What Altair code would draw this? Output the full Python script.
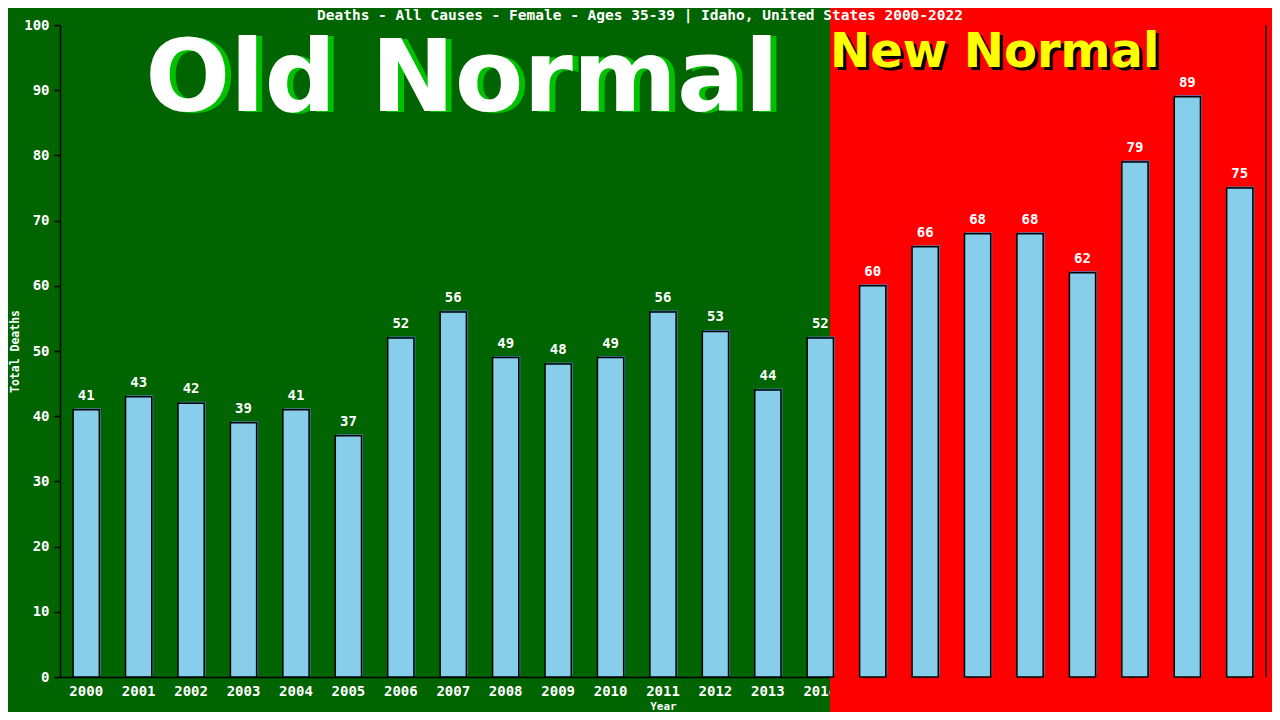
import altair as alt
import pandas as pd

years = [str(y) for y in range(2000, 2023)]
deaths = [41, 43, 42, 39, 41, 37, 52, 56, 49, 48, 49, 56, 53, 44, 52,
          60, 66, 68, 68, 62, 79, 89, 75]
title_text = "Deaths - All Causes - Female - Ages 35-39 | Idaho, United States 2000-2022"
y_ticks = list(range(0, 101, 10))

df = pd.DataFrame({"Year": years, "Deaths": deaths})
one = pd.DataFrame({"k": [0]})

W, H = 1206, 652
MONO = "DejaVu Sans Mono"

xs = alt.Scale(paddingInner=0.5, paddingOuter=0.25)
ys = alt.Scale(domain=[0, 100], nice=False)

x_enc = alt.X("Year:O", scale=xs, title="Year",
              axis=alt.Axis(labelAngle=0, ticks=False, labelColor="white",
                            labelFont=MONO, labelFontSize=14, labelFontWeight="bold",
                            labelPadding=7,
                            domainColor="black", domainWidth=1.5,
                            titleColor="white", titleFont=MONO, titleFontSize=11,
                            titleFontWeight="bold", titleY=29, titleBaseline="middle"))
y_enc = alt.Y("Deaths:Q", scale=ys, title="Total Deaths",
              axis=alt.Axis(values=y_ticks, grid=False, labelColor="white",
                            labelFont=MONO, labelFontSize=14, labelFontWeight="bold",
                            labelPadding=5,
                            tickColor="black", tickSize=6, tickWidth=1.5,
                            domainColor="black", domainWidth=1.5,
                            titleColor="white", titleFont=MONO, titleFontSize=11.5,
                            titleFontWeight="bold", titleX=-45, titleY=326,
                            titleAngle=-90, titleAlign="center",
                            titleBaseline="middle"))

red = alt.Chart(one).mark_rect(color="#FF0000").encode(
    x=alt.value(770), x2=alt.value(1212), y=alt.value(-17), y2=alt.value(687))

shadow = alt.Chart(df).mark_bar(color="#4682B4", xOffset=1.5, yOffset=-1.5).encode(
    x=x_enc, y=y_enc)
bars = alt.Chart(df).mark_bar(fill="#87CEEB", stroke="black", strokeWidth=1.5).encode(
    x=x_enc, y=y_enc)
labels = alt.Chart(df).mark_text(color="white", font=MONO, fontSize=14, fontWeight="bold",
                                 baseline="bottom", dy=-7).encode(
    x=x_enc, y=y_enc, text="Deaths:Q")

border = alt.Chart(one).mark_rule(color="black", strokeWidth=1.5).encode(
    x=alt.value(W), y=alt.value(0), y2=alt.value(H))

old_sh = alt.Chart(one).mark_text(text="Old Normal", font="DejaVu Sans", fontWeight="bold",
                                  fontSize=100, color="#00C000", align="center",
                                  baseline="alphabetic").encode(
    x=alt.value(408), y=alt.value(87))
old = alt.Chart(one).mark_text(text="Old Normal", font="DejaVu Sans", fontWeight="bold",
                               fontSize=100, color="white", align="center",
                               baseline="alphabetic").encode(
    x=alt.value(402), y=alt.value(86))
new_sh = alt.Chart(one).mark_text(text="New Normal", font="DejaVu Sans", fontWeight="bold",
                                  fontSize=48, color="black", align="left",
                                  baseline="alphabetic").encode(
    x=alt.value(773), y=alt.value(45))
new = alt.Chart(one).mark_text(text="New Normal", font="DejaVu Sans", fontWeight="bold",
                               fontSize=48, color="#FFFF00", align="left",
                               baseline="alphabetic").encode(
    x=alt.value(770), y=alt.value(42))
title = alt.Chart(one).mark_text(text=title_text, font=MONO, fontSize=14.5, fontWeight="bold",
                                 color="white", align="center", baseline="middle").encode(
    x=alt.value(580), y=alt.value(-9))

chart = alt.layer(red, old_sh, old, new_sh, new, shadow, bars, labels, border, title).properties(
    width=W, height=H,
    background="#006400",
    padding={"left": 52, "top": 17, "right": 6, "bottom": 35},
    autosize=alt.AutoSizeParams(type="none"),
).configure_view(stroke=None)

chart.save("out.html", embed_options={"renderer": "svg", "actions": False})
